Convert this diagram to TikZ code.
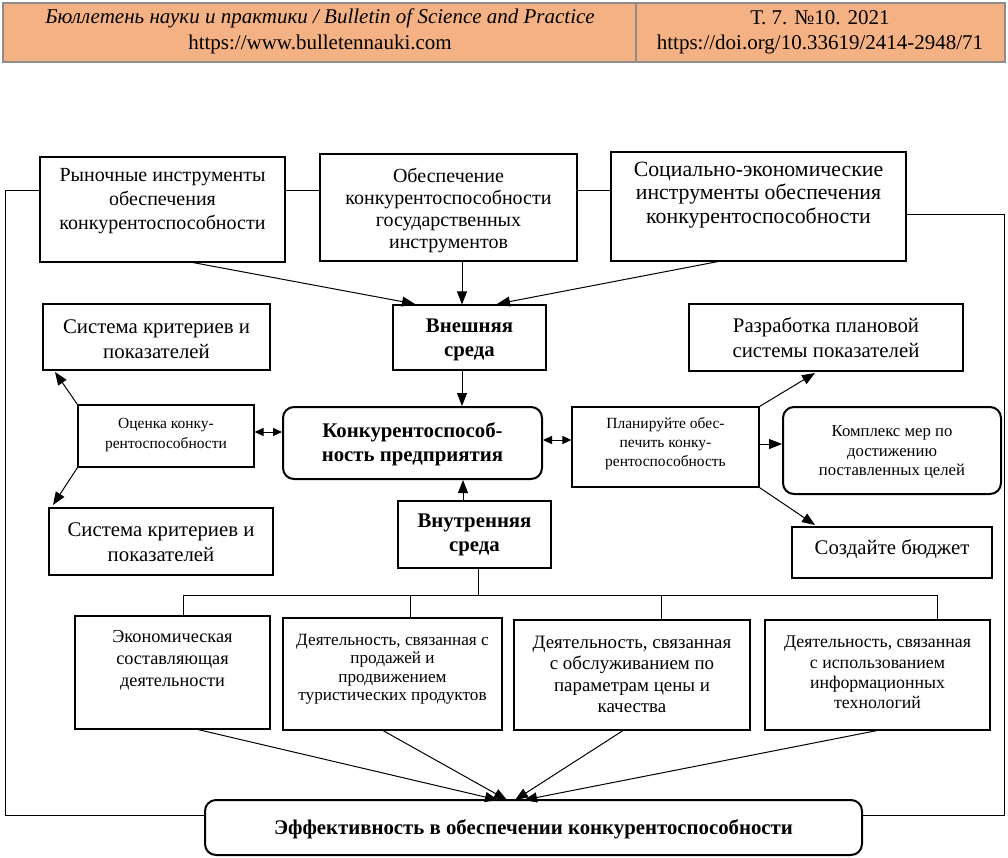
\documentclass[tikz,border=0pt]{standalone}
\usepackage{fontspec}
\setmainfont{Liberation Serif}
\usetikzlibrary{arrows.meta}
\definecolor{hdrfill}{RGB}{244,177,131}
\definecolor{hdrline}{RGB}{140,140,140}
\begin{document}
\begin{tikzpicture}[x=1pt,y=-1pt,
  box/.style={draw, line width=1.1pt, inner sep=0pt},
  rbox/.style={draw, line width=2pt, rounded corners=11pt, inner sep=0pt},
  big/.style={font=\fontsize{20}{24}\selectfont, align=center, inner sep=0pt},
  bigb/.style={font=\fontsize{20.8}{25}\selectfont, align=center, inner sep=0pt},
  bigger/.style={font=\fontsize{21.8}{23.5}\selectfont, align=center, inner sep=0pt},
  mid/.style={font=\fontsize{18.3}{21}\selectfont, align=center, inner sep=0pt},
  small/.style={font=\fontsize{15.5}{19}\selectfont, align=center, inner sep=0pt},
  bold/.style={font=\fontsize{20.8}{24}\selectfont\bfseries, align=center, inner sep=0pt},
  hdr/.style={font=\fontsize{21}{26}\selectfont, align=center, inner sep=0pt},
  ln/.style={line width=1pt},
  arr/.style={line width=1pt, -{Triangle[length=13pt,width=10pt]}},
  darr/.style={line width=1pt, {Triangle[length=9pt,width=8pt]}-{Triangle[length=9pt,width=8pt]}}
]
\useasboundingbox (0,0) rectangle (1008,857);
% header
\fill[hdrfill] (3,3) rectangle (1005,62);
\draw[hdrline, line width=2pt] (3,3) rectangle (1005,62);
\draw[hdrline, line width=2.5pt] (636,3) -- (636,62);
\node[hdr] (h1) at (320,18) {\itshape Бюллетень науки и практики / Bulletin of Science and Practice};
\node[hdr] (h2) at (320,44) {https://www.bulletennauki.com};
\node[hdr] (h3) at (820,18) {Т. 7. №10. 2021};
\node[hdr] (h4) at (820,44) {https://doi.org/10.33619/2414-2948/71};

% top boxes
\node[box, minimum width=245pt, minimum height=105pt] (b1) at (162.5,209.5) {};
\node[big] (b1t) at (162.5,201) {Рыночные инструменты\\обеспечения\\конкурентоспособности};
\node[box, minimum width=257pt, minimum height=107pt] (b2) at (448.5,207.5) {};
\node[big, font=\fontsize{20}{22}\selectfont] (b2t) at (448.5,210) {Обеспечение\\конкурентоспособности\\государственных\\инструментов};
\node[box, minimum width=295pt, minimum height=109pt] (b3) at (758.5,206.5) {};
\node[bigger] (b3t) at (758.5,195) {Социально-экономические\\инструменты обеспечения\\конкурентоспособности};

% centre column
\node[box, minimum width=153pt, minimum height=65pt] (ext) at (469.5,337.5) {};
\node[bold] (extt) at (469.5,339.5) {Внешняя\\среда};
\node[rbox, minimum width=259pt, minimum height=72pt] (konk) at (412.5,443) {};
\node[bold] (konkt) at (412.5,444.5) {Конкурентоспособ-\\ность предприятия};
\node[box, minimum width=153pt, minimum height=67pt] (int) at (474.5,534.5) {};
\node[bold] (intt) at (474.5,534.5) {Внутренняя\\среда};

% left
\node[box, minimum width=227pt, minimum height=66pt] (sk1) at (156.5,337) {};
\node[bigb] (sk1t) at (156.5,339.5) {Система критериев и\\показателей};
\node[box, minimum width=176pt, minimum height=62pt] (ots) at (166,436) {};
\node[small, font=\fontsize{15.5}{20}\selectfont] (otst) at (166,435) {Оценка конку-\\рентоспособности};
\node[box, minimum width=224pt, minimum height=67pt] (sk2) at (161,541.5) {};
\node[bigb] (sk2t) at (161,542.5) {Система критериев и\\показателей};

% right
\node[box, minimum width=187pt, minimum height=80pt] (plan) at (665.5,447) {};
\node[small] (plant) at (665.5,443.5) {Планируйте обес-\\печить конку-\\рентоспособность};
\node[box, minimum width=274pt, minimum height=67pt] (razr) at (826,337.5) {};
\node[bigb] (razrt) at (826,337.5) {Разработка плановой\\системы показателей};
\node[rbox, minimum width=218pt, minimum height=87pt] (kompl) at (892,450.5) {};
\node[small, font=\fontsize{16.7}{19.5}\selectfont] (komplt) at (892,452.5) {Комплекс мер по\\достижению\\поставленных целей};
\node[box, minimum width=200pt, minimum height=51pt] (budg) at (892,552.5) {};
\node[bigb] (budgt) at (892,549) {Создайте бюджет};

% bottom row
\node[box, minimum width=195pt, minimum height=113pt] (ba) at (172.5,672.5) {};
\node[mid, font=\fontsize{18.3}{22}\selectfont] (bat) at (172.5,660) {Экономическая\\составляющая\\деятельности};
\node[box, minimum width=219pt, minimum height=112pt] (bb) at (392.5,674) {};
\node[small, font=\fontsize{17.2}{18.5}\selectfont] (bbt) at (392.5,669) {Деятельность, связанная с\\продажей и\\продвижением\\туристических продуктов};
\node[box, minimum width=236pt, minimum height=110pt] (bc) at (632,675) {};
\node[mid, font=\fontsize{18.9}{21.5}\selectfont] (bct) at (632,674.5) {Деятельность, связанная\\с обслуживанием по\\параметрам цены и\\качества};
\node[box, minimum width=225pt, minimum height=110pt] (bd) at (877.5,675) {};
\node[mid, font=\fontsize{17.8}{20.3}\selectfont] (bdt) at (877.5,672.5) {Деятельность, связанная\\с использованием\\информационных\\технологий};

% result
\node[rbox, minimum width=657pt, minimum height=55pt] (eff) at (533.5,827.5) {};
\node[bold] (efft) at (533.5,829) {Эффективность в обеспечении конкурентоспособности};

% coordinates
\coordinate (fl1) at (5,190);
\coordinate (fl2) at (5,815);
\coordinate (fr1) at (1004,214);
\coordinate (fr2) at (1004,815);
\coordinate (busL) at (183,595);
\coordinate (busR) at (937,595);
\coordinate (busA) at (183,595);
\coordinate (busB) at (410,595);
\coordinate (busC) at (661,595);
\coordinate (busD) at (937,595);
\coordinate (busI) at (478,595);
\coordinate (t1) at (55,372);
\coordinate (t2) at (53,505);
\coordinate (t3) at (815,373);
\coordinate (t4) at (815,525);
\coordinate (ea) at (498,800);
\coordinate (eb) at (507,800);
\coordinate (ec) at (515,800);
\coordinate (ed) at (524,800);
\coordinate (ex1) at (415,304);
\coordinate (ex3) at (497,304);

% frame
\draw[ln] (b1.west |- fl1) -- (fl1) -- (fl2) -- (eff.west |- fl2);
\draw[ln] (b3.east |- fr1) -- (fr1) -- (fr2) -- (eff.east |- fr2);
\draw[ln] (b1.east |- fl1) -- (b2.west |- fl1);
\draw[ln] (b2.east |- fl1) -- (b3.west |- fl1);

% arrows to external
\draw[arr] (b1.south -| 193,0) -- (ex1);
\draw[arr] (b2.south -| 462,0) -- (ext.north -| 462,0);
\draw[arr] (b3.south -| 718,0) -- (ex3);
\draw[arr] (ext.south -| 462,0) -- (konk.north -| 462,0);
\draw[arr] (int.north -| 463,0) -- (konk.south -| 463,0);

% left
\draw[darr] (ots.east |- 0,432) -- (konk.west |- 0,432);
\draw[arr] (ots.north west) -- (t1);
\draw[arr] (ots.south west) -- (t2);

% right
\draw[darr] (konk.east |- 0,440) -- (plan.west |- 0,440);
\draw[arr] (plan.north east) -- (t3);
\draw[arr] (plan.east |- 0,444) -- (kompl.west |- 0,444);
\draw[arr] (plan.south east) -- (t4);

% bus
\draw[ln] (int.south -| busI) -- (busI);
\draw[ln] (busL) -- (busR);
\draw[ln] (busA) -- (ba.north -| busA);
\draw[ln] (busB) -- (bb.north -| busB);
\draw[ln] (busC) -- (bc.north -| busC);
\draw[ln] (busD) -- (bd.north -| busD);

% to result
\draw[arr] (ba.south -| 198,0) -- (ea);
\draw[arr] (bb.south -| 383,0) -- (eb);
\draw[arr] (bc.south -| 623,0) -- (ec);
\draw[arr] (bd.south -| 877,0) -- (ed);
\end{tikzpicture}
\end{document}
